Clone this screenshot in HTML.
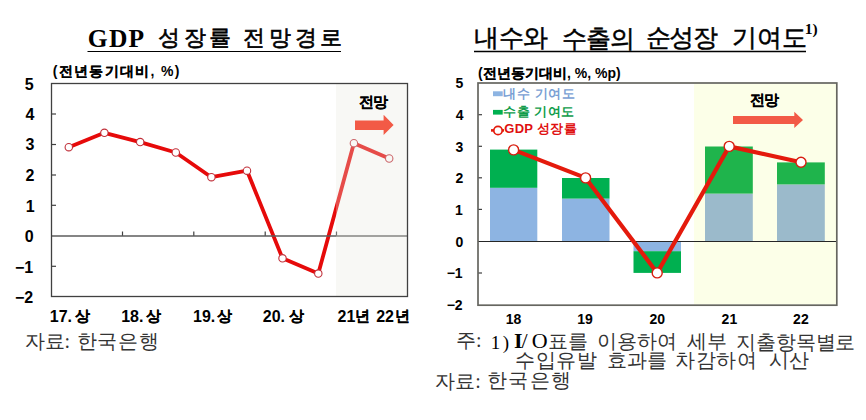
<!DOCTYPE html>
<html><head><meta charset="utf-8">
<style>
html,body{margin:0;padding:0;background:#fff;}
body{width:866px;height:420px;position:relative;overflow:hidden;font-family:"Liberation Sans",sans-serif;color:#000;}
.t{position:absolute;white-space:nowrap;line-height:1;}
.b{font-weight:bold;}
.b .k{-webkit-text-stroke:0.15px currentColor;}
.sf{font-family:"Liberation Serif",serif;}
.yl{position:absolute;width:30px;text-align:right;font-weight:bold;line-height:1;}
svg{position:absolute;left:0;top:0;}
</style></head><body>
<svg width="866" height="420" viewBox="0 0 866 420">
  <!-- LEFT CHART -->
  <g>
    <!-- x ticks on zero line -->
    <g stroke="#404040" stroke-width="1.2">
      <line x1="122.5" y1="231.5" x2="122.5" y2="236"/>
      <line x1="193.8" y1="231.5" x2="193.8" y2="236"/>
      <line x1="265.2" y1="231.5" x2="265.2" y2="236"/>
      <line x1="336.5" y1="231.5" x2="336.5" y2="236"/>
    </g>
    <!-- y ticks -->
    <g stroke="#404040" stroke-width="1.2">
      <line x1="51" y1="114" x2="56" y2="114"/>
      <line x1="51" y1="144.5" x2="56" y2="144.5"/>
      <line x1="51" y1="175" x2="56" y2="175"/>
      <line x1="51" y1="205.3" x2="56" y2="205.3"/>
      <line x1="51" y1="266.3" x2="56" y2="266.3"/>
    </g>
    <polyline fill="none" stroke="#e60a0a" stroke-width="3.8" stroke-linejoin="round"
      points="68.8,147.2 104.4,132.8 140.2,142.1 175.8,152.5 211.4,177.2 247,170.7 282.5,258.3 318.3,273.6 353.9,143.2 389.2,158.5"/>
    <g fill="#fff" stroke="#c0303a" stroke-width="1.1">
      <circle cx="68.8" cy="147.2" r="3.7"/>
      <circle cx="104.4" cy="132.8" r="3.7"/>
      <circle cx="140.2" cy="142.1" r="3.7"/>
      <circle cx="175.8" cy="152.5" r="3.7"/>
      <circle cx="211.4" cy="177.2" r="3.7"/>
      <circle cx="247" cy="170.7" r="3.7"/>
      <circle cx="282.5" cy="258.3" r="3.7"/>
      <circle cx="318.3" cy="273.6" r="3.7"/>
      <circle cx="353.9" cy="143.2" r="3.7"/>
      <circle cx="389.2" cy="158.5" r="3.7"/>
    </g>
    <line x1="51" y1="236" x2="408" y2="236" stroke="#5c5c5c" stroke-width="1.6"/>
    <!-- shaded forecast overlay -->
    <rect x="336" y="84" width="71.5" height="212.5" fill="#e9e9df" fill-opacity="0.3"/>
    <!-- arrow -->
    <polygon fill="#f25a46" points="355,120.5 383.6,120.5 383.6,114.7 393.6,125 383.6,135 383.6,130 355,130"/>
    <!-- border -->
    <rect x="51.5" y="83.5" width="356" height="213" fill="none" stroke="#404040" stroke-width="1.3"/>
  </g>

  <!-- RIGHT CHART -->
  <g>
    <!-- bars -->
    <g fill="#8db4e2">
      <rect x="490" y="187.8" width="47.3" height="53.6"/>
      <rect x="562" y="198.6" width="47.5" height="42.8"/>
      <rect x="633.5" y="241.4" width="47.5" height="9.8"/>
    </g>
    <g fill="#00b050">
      <rect x="490" y="149.6" width="47.3" height="38.2"/>
      <rect x="562" y="178" width="47.5" height="20.6"/>
      <rect x="633.5" y="251.2" width="47.5" height="21.7"/>
    </g>
    <!-- shaded region -->
    <rect x="694" y="83.5" width="142" height="221" fill="#fcffe8"/>
    <g fill="#9bbacb">
      <rect x="705" y="193.6" width="47.8" height="47.8"/>
      <rect x="777" y="184.4" width="47.8" height="57"/>
    </g>
    <g fill="#1fb44c">
      <rect x="705" y="146.5" width="47.8" height="47.1"/>
      <rect x="777" y="162.4" width="47.8" height="22"/>
    </g>
    <!-- zero line -->
    <line x1="478" y1="241.5" x2="836" y2="241.5" stroke="#262626" stroke-width="1.2"/>
    <!-- y ticks -->
    <g stroke="#404040" stroke-width="1.2">
      <line x1="478" y1="114.7" x2="482" y2="114.7"/>
      <line x1="478" y1="146.3" x2="482" y2="146.3"/>
      <line x1="478" y1="177.8" x2="482" y2="177.8"/>
      <line x1="478" y1="209.4" x2="482" y2="209.4"/>
      <line x1="478" y1="273" x2="482" y2="273"/>
    </g>
    <!-- arrow -->
    <polygon fill="#f25a46" points="733,116 794.3,116 794.3,111.7 803,120 794.3,128 794.3,124 733,124"/>
    <!-- line -->
    <polyline fill="none" stroke="#e41a0c" stroke-width="4.2" stroke-linejoin="round"
      points="513.6,149.9 585.6,177.9 657.2,272.9 729.2,146.4 801,162.2"/>
    <g fill="#fff" stroke="#d81e10" stroke-width="1.4">
      <circle cx="513.6" cy="149.9" r="5"/>
      <circle cx="585.6" cy="177.9" r="5"/>
      <circle cx="657.2" cy="272.9" r="5"/>
      <circle cx="729.2" cy="146.4" r="5"/>
      <circle cx="801" cy="162.2" r="5"/>
    </g>
    <!-- legend icons -->
    <rect x="493" y="91.3" width="9.7" height="4.9" fill="#8db4e2"/>
    <rect x="493" y="109.9" width="9.7" height="4.7" fill="#00b050"/>
    <line x1="491" y1="130.4" x2="504" y2="130.4" stroke="#e41a0c" stroke-width="2.6"/>
    <circle cx="498" cy="130.5" r="4.2" fill="#fff" stroke="#e41a0c" stroke-width="1.7"/>
    <!-- border -->
    <rect x="478" y="83" width="358.8" height="222.2" fill="none" stroke="#666660" stroke-width="1.7"/>
  </g>
  <!-- title underlines -->
  <line x1="87.5" y1="51.5" x2="341" y2="51.5" stroke="#000" stroke-width="1.2"/>
  <line x1="474" y1="51.5" x2="806" y2="51.5" stroke="#000" stroke-width="1.4"/>
</svg>
<div class="t sf b" style="left:87.8px;top:25.6px;font-size:25.50px;letter-spacing:1.28px;">GDP</div>
<div class="t sf" style="left:158.4px;top:26.8px;font-size:22.00px;letter-spacing:3.38px;-webkit-text-stroke:0.6px #000;">성장률</div>
<div class="t sf" style="left:243.2px;top:27.3px;font-size:22.00px;letter-spacing:3.76px;-webkit-text-stroke:0.6px #000;">전망경로</div>
<div class="t b" style="left:52.7px;top:63.5px;font-size:14.00px;letter-spacing:1.32px;">(<span class="k">전년동기대비</span>, %)</div>
<div class="t b" style="left:24.8px;top:76.7px;font-size:16.00px;">5</div>
<div class="t b" style="left:25.4px;top:107.1px;font-size:16.00px;">4</div>
<div class="t b" style="left:25.4px;top:137.3px;font-size:16.00px;">3</div>
<div class="t b" style="left:25.4px;top:168.0px;font-size:16.00px;">2</div>
<div class="t b" style="left:25.8px;top:198.7px;font-size:16.00px;">1</div>
<div class="t b" style="left:24.8px;top:228.8px;font-size:16.00px;">0</div>
<div class="t b" style="left:15.0px;top:259.5px;font-size:16.00px;">−1</div>
<div class="t b" style="left:15.0px;top:289.6px;font-size:16.00px;">−2</div>
<div class="t b" style="left:358.6px;top:94.6px;font-size:14.50px;letter-spacing:-0.60px;"><span class="k">전망</span></div>
<div class="t sf" style="left:24.6px;top:331.0px;font-size:20.00px;color:#333;">자료:</div>
<div class="t sf" style="left:76.6px;top:331.0px;font-size:20.00px;letter-spacing:0.83px;color:#333;">한국은행</div>
<div class="t sf" style="left:474.4px;top:25.5px;font-size:24.50px;letter-spacing:-0.88px;-webkit-text-stroke:0.5px #000;">내수와</div>
<div class="t sf" style="left:561.7px;top:26.7px;font-size:24.50px;letter-spacing:-0.60px;-webkit-text-stroke:0.5px #000;">수출의</div>
<div class="t sf" style="left:645.5px;top:25.5px;font-size:24.50px;letter-spacing:-1.05px;-webkit-text-stroke:0.5px #000;">순성장</div>
<div class="t sf" style="left:731.8px;top:25.5px;font-size:24.50px;letter-spacing:-0.12px;-webkit-text-stroke:0.5px #000;">기여도</div>
<div class="t sf b" style="left:804.8px;top:21.1px;font-size:15.50px;">1)</div>
<div class="t b" style="left:478.0px;top:65.6px;font-size:14.00px;letter-spacing:0.03px;">(<span class="k">전년동기대비</span>, %, %p)</div>
<div class="t b" style="left:455.5px;top:76.4px;font-size:14.00px;">5</div>
<div class="t b" style="left:455.8px;top:108.3px;font-size:14.00px;">4</div>
<div class="t b" style="left:455.5px;top:139.5px;font-size:14.00px;">3</div>
<div class="t b" style="left:455.5px;top:171.4px;font-size:14.00px;">2</div>
<div class="t b" style="left:454.9px;top:203.0px;font-size:14.00px;">1</div>
<div class="t b" style="left:455.5px;top:234.5px;font-size:14.00px;">0</div>
<div class="t b" style="left:446.7px;top:265.5px;font-size:14.00px;">−1</div>
<div class="t b" style="left:446.7px;top:297.7px;font-size:14.00px;">−2</div>
<div class="t b nk" style="left:503.3px;top:86.5px;font-size:13.00px;letter-spacing:0.56px;color:#7a9fd4;">내수 기여도</div>
<div class="t b nk" style="left:503.3px;top:105.3px;font-size:13.00px;letter-spacing:0.50px;color:#0f9c4a;">수출 기여도</div>
<div class="t b nk" style="left:504.2px;top:122.0px;font-size:13.00px;letter-spacing:0.34px;color:#e01010;">GDP 성장률</div>
<div class="t b" style="left:749.8px;top:93.4px;font-size:14.50px;letter-spacing:-0.60px;"><span class="k">전망</span></div>
<div class="t b" style="left:505.8px;top:312.3px;font-size:14.00px;">18</div>
<div class="t b" style="left:577.3px;top:312.3px;font-size:14.00px;">19</div>
<div class="t b" style="left:649.5px;top:312.3px;font-size:14.00px;">20</div>
<div class="t b" style="left:721.6px;top:312.3px;font-size:14.00px;">21</div>
<div class="t b" style="left:793.1px;top:312.3px;font-size:14.00px;">22</div>
<div class="t sf" style="left:456.0px;top:330.4px;font-size:20.00px;color:#333;">주:</div>
<div class="t sf" style="left:490.8px;top:332.8px;font-size:19.00px;letter-spacing:2.50px;">1)</div>
<div class="t sf b" style="left:513.9px;top:330.2px;font-size:22.00px;">I</div>
<div class="t sf" style="left:521.4px;top:330.0px;font-size:22.00px;">/</div>
<div class="t sf" style="left:531.7px;top:330.0px;font-size:22.00px;">O</div>
<div class="t sf" style="left:548.4px;top:332.2px;font-size:19.50px;letter-spacing:0.10px;color:#333;">표를</div>
<div class="t sf" style="left:597.0px;top:332.2px;font-size:19.50px;letter-spacing:-0.12px;color:#333;">이용하여</div>
<div class="t sf" style="left:687.3px;top:332.2px;font-size:19.50px;letter-spacing:-0.30px;color:#333;">세부</div>
<div class="t sf" style="left:735.6px;top:333.4px;font-size:19.50px;letter-spacing:-0.02px;color:#333;">지출항목별로</div>
<div class="t sf" style="left:515.4px;top:350.8px;font-size:19.50px;letter-spacing:0.37px;color:#333;">수입유발</div>
<div class="t sf" style="left:606.7px;top:350.8px;font-size:19.50px;letter-spacing:-0.02px;color:#333;">효과를</div>
<div class="t sf" style="left:675.1px;top:350.8px;font-size:19.50px;letter-spacing:0.60px;color:#333;">차감하여</div>
<div class="t sf" style="left:769.2px;top:350.8px;font-size:19.50px;letter-spacing:-0.56px;color:#333;">시산</div>
<div class="t sf" style="left:435.3px;top:370.6px;font-size:20.00px;color:#333;">자료:</div>
<div class="t sf" style="left:487.3px;top:370.3px;font-size:20.00px;letter-spacing:1.11px;color:#333;">한국은행</div>
<div class="t b" style="left:49.8px;top:309.3px;font-size:16.00px;">17.</div>
<div class="t b" style="left:74.7px;top:309.1px;font-size:14.50px;"><span class="k">상</span></div>
<div class="t b" style="left:121.2px;top:309.3px;font-size:16.00px;">18.</div>
<div class="t b" style="left:145.6px;top:309.1px;font-size:14.50px;"><span class="k">상</span></div>
<div class="t b" style="left:193.0px;top:309.3px;font-size:16.00px;">19.</div>
<div class="t b" style="left:217.1px;top:309.1px;font-size:14.50px;"><span class="k">상</span></div>
<div class="t b" style="left:262.8px;top:309.3px;font-size:16.00px;">20.</div>
<div class="t b" style="left:288.6px;top:309.1px;font-size:14.50px;"><span class="k">상</span></div>
<div class="t b" style="left:337.5px;top:309.2px;font-size:16.00px;">21</div>
<div class="t b" style="left:355.2px;top:309.4px;font-size:14.50px;"><span class="k">년</span></div>
<div class="t b" style="left:376.2px;top:309.2px;font-size:16.00px;">22</div>
<div class="t b" style="left:394.5px;top:309.4px;font-size:14.50px;"><span class="k">년</span></div>
</body></html>
